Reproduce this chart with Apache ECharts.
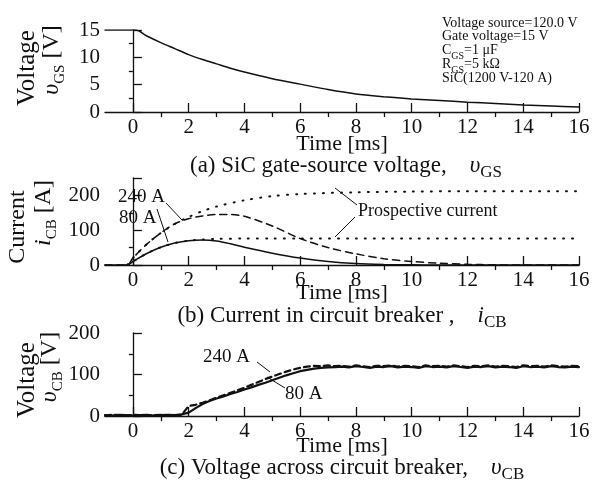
<!DOCTYPE html>
<html>
<head>
<meta charset="utf-8">
<script src="https://cdn.jsdelivr.net/npm/echarts@6/dist/echarts.min.js"></script>
<style>
  html, body { margin: 0; padding: 0; background: #fff; }
  #chart { width: 593px; height: 484px; }
</style>
</head>
<body>
<div id="chart"></div>
<script>
// (a) gate-source voltage
const timeGate = [-1, 0.1, 0.5, 1, 1.5, 2, 2.5, 3, 3.5, 4, 5, 6, 7, 8, 9, 10, 11, 12, 13, 14, 15, 16];
const vGS = [15, 15, 13.9, 12.7, 11.6, 10.5, 9.6, 8.8, 8.0, 7.3, 6.1, 5.1, 4.1, 3.3, 2.8, 2.4, 2.1, 1.8, 1.55, 1.3, 1.1, 0.9];

// (b) current in circuit breaker
const timeCur = [-1, -0.2, 0, 0.5, 1, 1.5, 2, 2.5, 3, 3.5, 4, 5, 6, 7, 8, 9, 10, 11, 12, 13, 14, 16];
const i80 = [0, 0, 10, 33, 51, 63, 70, 72, 69, 61, 51, 34, 20, 10, 4, 1.5, 0.5, 0, 0, 0, 0, 0];
const i240 = [0, 0, 20, 60, 92, 118, 133, 141, 145, 145, 140, 112, 76, 50, 32, 18, 10, 5, 2, 0.5, 0, 0];
const timePros = [-0.2, 0, 0.5, 1, 1.5, 2, 2.5, 3, 4, 5, 6, 8, 10, 12, 16];
const pros240 = [0, 20, 60, 92, 118, 138, 155, 168, 186, 198, 204, 209, 211, 212, 212];
const pros80 = [0, 10, 33, 51, 63, 70, 73, 75, 76, 76, 76, 76, 76, 76, 76];

// (c) voltage across circuit breaker
const timeVcb = [-1, -0.75, -0.5, -0.25, 0, 0.25, 0.5, 0.75, 1, 1.25, 1.5, 1.75,
  2, 2.25, 2.5, 2.75, 3, 3.25, 3.5, 3.75, 4, 4.25, 4.5, 4.75, 5, 5.25, 5.5, 5.75,
  6, 6.25, 6.5, 6.75, 7, 7.25, 7.5, 7.75, 8, 8.25, 8.5, 8.75, 9, 9.25, 9.5, 9.75,
  10, 10.25, 10.5, 10.75, 11, 11.25, 11.5, 11.75, 12, 12.25, 12.5, 12.75,
  13, 13.25, 13.5, 13.75, 14, 14.25, 14.5, 14.75, 15, 15.25, 15.5, 15.75, 16];
const vcb80 = [2, 1, 3, 2, 1, 2, 3, 1, 2, 3, 2, 4,
  8, 19, 29, 36, 42, 47, 53, 58, 64, 69, 75, 80, 86, 92, 98, 103,
  108, 111, 114, 116, 117, 118, 119, 117, 120, 118, 116, 119, 118, 120,
  117, 119, 118, 116, 120, 118, 119, 117, 120, 118, 116, 119,
  118, 120, 117, 119, 118, 116, 120, 118, 119, 117, 120, 118, 117, 119, 118];
const vcb240 = [1, 3, 2, 1, 3, 2, 1, 2, 3, 2, 1, 3,
  24, 27, 32, 38, 44, 50, 56, 62, 68, 75, 82, 89, 95, 101, 107, 112,
  116, 119, 121, 120, 122, 120, 121, 119, 122, 120, 118, 121, 120, 122,
  119, 121, 120, 118, 122, 120, 121, 119, 122, 120, 118, 121,
  120, 122, 119, 121, 120, 118, 122, 120, 121, 119, 122, 120, 119, 121, 120];

const xMajor = [0, 2, 4, 6, 8, 10, 12, 14, 16];
const xMinor = [1, 3, 5, 7, 9, 11, 13, 15];

const FONT = "'Liberation Serif', 'DejaVu Serif', serif";
const INK = '#111';

const pairs = (t, v) => t.map((x, i) => [x, v[i]]);

function xAxes(grid, nameGap) {
  return [
    {
      type: 'value', gridIndex: grid, min: -1, max: 16,
      name: 'Time [ms]', nameLocation: 'middle', nameGap: nameGap, nameMoveOverlap: false,
      nameTextStyle: { fontFamily: FONT, fontSize: 22, color: INK },
      axisLine: { lineStyle: { color: INK, width: 1.3 } },
      axisTick: { inside: true, length: 9, customValues: xMajor, lineStyle: { color: INK, width: 1.3 } },
      axisLabel: { customValues: xMajor, margin: 5, fontFamily: FONT, fontSize: 21, color: INK },
      splitLine: { show: false }
    },
    {
      type: 'value', gridIndex: grid, min: -1, max: 16,
      axisLine: { show: false },
      axisTick: { inside: true, length: 5, customValues: xMinor, lineStyle: { color: INK, width: 1.3 } },
      axisLabel: { show: false },
      splitLine: { show: false }
    }
  ];
}

function yAxes(grid, max, labels, major, minor) {
  return [
    {
      type: 'value', gridIndex: grid, min: 0, max: max,
      axisLine: { show: true, lineStyle: { color: INK, width: 1.3 } },
      axisTick: { show: true, inside: true, length: 9, customValues: major, lineStyle: { color: INK, width: 1.3 } },
      axisLabel: { customValues: labels, margin: 5, fontFamily: FONT, fontSize: 21, color: INK },
      splitLine: { show: false }
    },
    {
      type: 'value', gridIndex: grid, min: 0, max: max,
      axisLine: { show: false },
      axisTick: { show: true, inside: true, length: 4, customValues: minor, lineStyle: { color: INK, width: 1.3 } },
      axisLabel: { show: false },
      splitLine: { show: false }
    }
  ];
}

function line(data, xi, yi, type, width) {
  return {
    type: 'line', data: data, xAxisIndex: xi, yAxisIndex: yi,
    symbol: 'none', smooth: 0.3, animation: false,
    lineStyle: { color: INK, width: width || 1.5, type: type || 'solid', cap: 'round' }
  };
}

const txt = (x, y, text, size, align, rich, rot) => ({
  type: 'text', x: x, y: y, rotation: rot || 0,
  style: {
    text: text, fill: INK, font: size + 'px ' + FONT,
    align: align || 'left', verticalAlign: 'middle', rich: rich
  }
});
const seg = (x1, y1, x2, y2) => ({
  type: 'line', shape: { x1: x1, y1: y1, x2: x2, y2: y2 },
  style: { stroke: INK, lineWidth: 1 }
});

function subRich(size, sub) {
  return {
    n: { fontFamily: FONT, fontSize: size, lineHeight: size + 8, color: INK },
    i: { fontFamily: FONT, fontSize: size, fontStyle: 'italic', lineHeight: size + 8, color: INK },
    s: { fontFamily: FONT, fontSize: sub, verticalAlign: 'bottom', lineHeight: sub, color: INK }
  };
}
const r24 = subRich(24, 15);
const r23 = subRich(23, 17);
const r14 = subRich(14, 10);

const option = {
  backgroundColor: '#fff',
  animation: false,
  grid: [
    { left: 105, width: 474, top: 30, height: 82 },
    { left: 105, width: 474, top: 178, height: 87 },
    { left: 105, width: 474, top: 333, height: 83 }
  ],
  xAxis: [].concat(xAxes(0, 21), xAxes(1, 17), xAxes(2, 19)),
  yAxis: [].concat(
    yAxes(0, 15, [0, 5, 10, 15], [0, 5, 10, 15], [2.5, 7.5, 12.5]),
    yAxes(1, 250, [0, 100, 200], [0, 100, 200, 250], [50, 150]),
    yAxes(2, 200, [0, 100, 200], [0, 100, 200], [50, 150])
  ),
  series: [
    line(pairs(timeGate, vGS), 0, 0),
    line(pairs(timeCur, i80), 2, 2),
    line(pairs(timeCur, i240), 2, 2, [7, 5]),
    line(pairs(timePros, pros240), 2, 2, [1, 8], 2),
    line(pairs(timePros, pros80), 2, 2, [1, 8], 2),
    Object.assign(line(pairs(timeVcb, vcb80), 4, 4, 'solid', 2.2), { smooth: false }),
    Object.assign(line(pairs(timeVcb, vcb240), 4, 4, [6, 4], 2.2), { smooth: false })
  ],
  graphic: [
    // y-axis names
    txt(27, 68, 'Voltage', 25, 'center', null, Math.PI / 2),
    txt(52, 60, '{i|υ}{s|GS}{n| [V]}', 24, 'center', r24, Math.PI / 2),
    txt(18, 227, 'Current', 24, 'center', null, Math.PI / 2),
    txt(44, 213, '{i|i}{s|CB}{n| [A]}', 24, 'center', r24, Math.PI / 2),
    txt(27, 380, 'Voltage', 25, 'center', null, Math.PI / 2),
    txt(50, 367, '{i|υ}{s|CB}{n| [V]}', 24, 'center', r24, Math.PI / 2),
    // conditions
    txt(442, 23, 'Voltage source=120.0 V', 14),
    txt(442, 36, 'Gate voltage=15 V', 14),
    txt(442, 50, '{n|C}{s|GS}{n|=1 μF}', 14, 'left', r14),
    txt(442, 64, '{n|R}{s|GS}{n|=5 kΩ}', 14, 'left', r14),
    txt(442, 78, 'SiC(1200 V-120 A)', 14),
    // panel (b) labels
    txt(118, 197, '240 A', 19),
    seg(166, 203, 182, 220),
    txt(119, 218, '80 A', 19),
    seg(157, 209, 168, 242),
    txt(358, 211, 'Prospective current', 18),
    seg(357, 205, 335, 188),
    seg(355, 217, 335, 237),
    // panel (c) labels
    txt(203, 357, '240 A', 19),
    seg(257, 362, 270, 372),
    txt(285, 394, '80 A', 19),
    seg(267, 377, 285, 388),
    // captions
    txt(346, 166, '{n|(a) SiC gate-source voltage,    }{i|υ}{s|GS}', 23, 'center', r23),
    txt(342, 316, '{n|(b) Current in circuit breaker ,    }{i|i}{s|CB}', 23, 'center', r23),
    txt(342, 468, '{n|(c) Voltage across circuit breaker,    }{i|υ}{s|CB}', 23, 'center', r23)
  ]
};

const chart = echarts.init(document.getElementById('chart'), null, { renderer: 'canvas' });
chart.setOption(option);
</script>
</body>
</html>
